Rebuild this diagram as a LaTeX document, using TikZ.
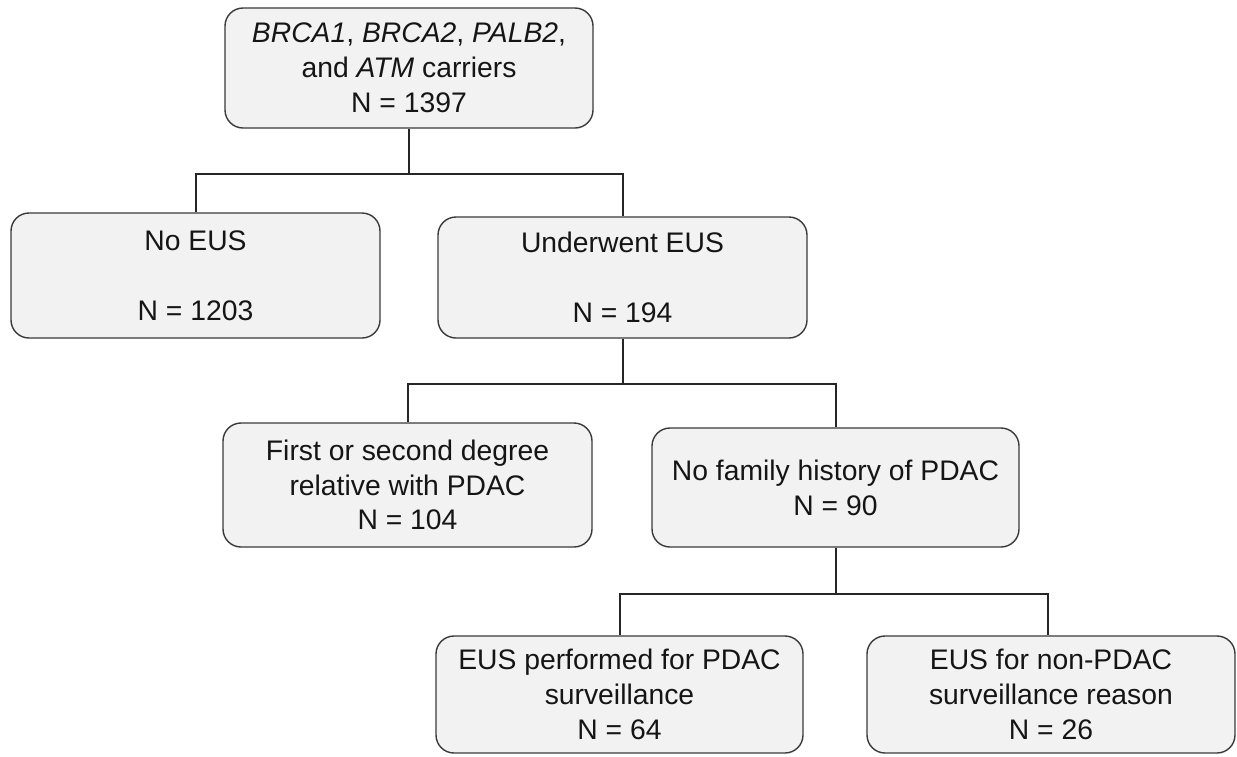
\documentclass[tikz,border=0pt]{standalone}
\usepackage{fontspec}
\setmainfont{Liberation Sans}
\definecolor{boxfill}{HTML}{F2F2F2}
\definecolor{boxline}{HTML}{3A3A3A}
\definecolor{txt}{HTML}{151515}
\begin{document}
\begin{tikzpicture}[x=1pt,y=-1pt,
  box/.style={draw=boxline, line width=1.4pt, fill=boxfill, rounded corners=18pt,
    align=center, inner sep=0pt, text=txt,
    font=\fontsize{28.3}{34.8}\selectfont},
  conn/.style={draw=black!85, line width=2pt}]
\useasboundingbox (0,0) rectangle (1237,756);
\fill[white] (0,0) rectangle (1237,756);

\node[box, minimum width=368pt, minimum height=120pt] (top) at (409,68)
  {\textit{BRCA1}, \textit{BRCA2}, \textit{PALB2},\\and \textit{ATM} carriers\\N = 1397};
\node[box, minimum width=369pt, minimum height=125pt] (noeus) at (195.5,275.5)
  {No EUS\\\strut\\N = 1203};
\node[box, minimum width=369pt, minimum height=121pt] (under) at (622.5,277.5)
  {Underwent EUS\\\strut\\N = 194};
\node[box, minimum width=369pt, minimum height=124pt] (first) at (407.5,485)
  {First or second degree\\relative with PDAC\\N = 104};
\node[box, minimum width=367pt, minimum height=119pt] (nofam) at (835.5,487.5)
  {No family history of PDAC\\N = 90};
\node[box, minimum width=367pt, minimum height=117pt] (eusp) at (619.5,694.5)
  {EUS performed for PDAC\\surveillance\\N = 64};
\node[box, minimum width=368pt, minimum height=117pt] (eusn) at (1051,694.5)
  {EUS for non-PDAC\\surveillance reason\\N = 26};

\draw[conn] (top.south) -- ++(0,45) -| (noeus.north);
\draw[conn] (top.south) -- ++(0,45) -| (under.north);
\draw[conn] (under.south) -- ++(0,45) -| (first.north);
\draw[conn] (under.south) -- ++(0,45) -| (nofam.north);
\draw[conn] (nofam.south) -- ++(0,46) -| (eusp.north);
\draw[conn] (nofam.south) -- ++(0,46) -| ([xshift=-3pt]eusn.north);
\end{tikzpicture}
\end{document}
